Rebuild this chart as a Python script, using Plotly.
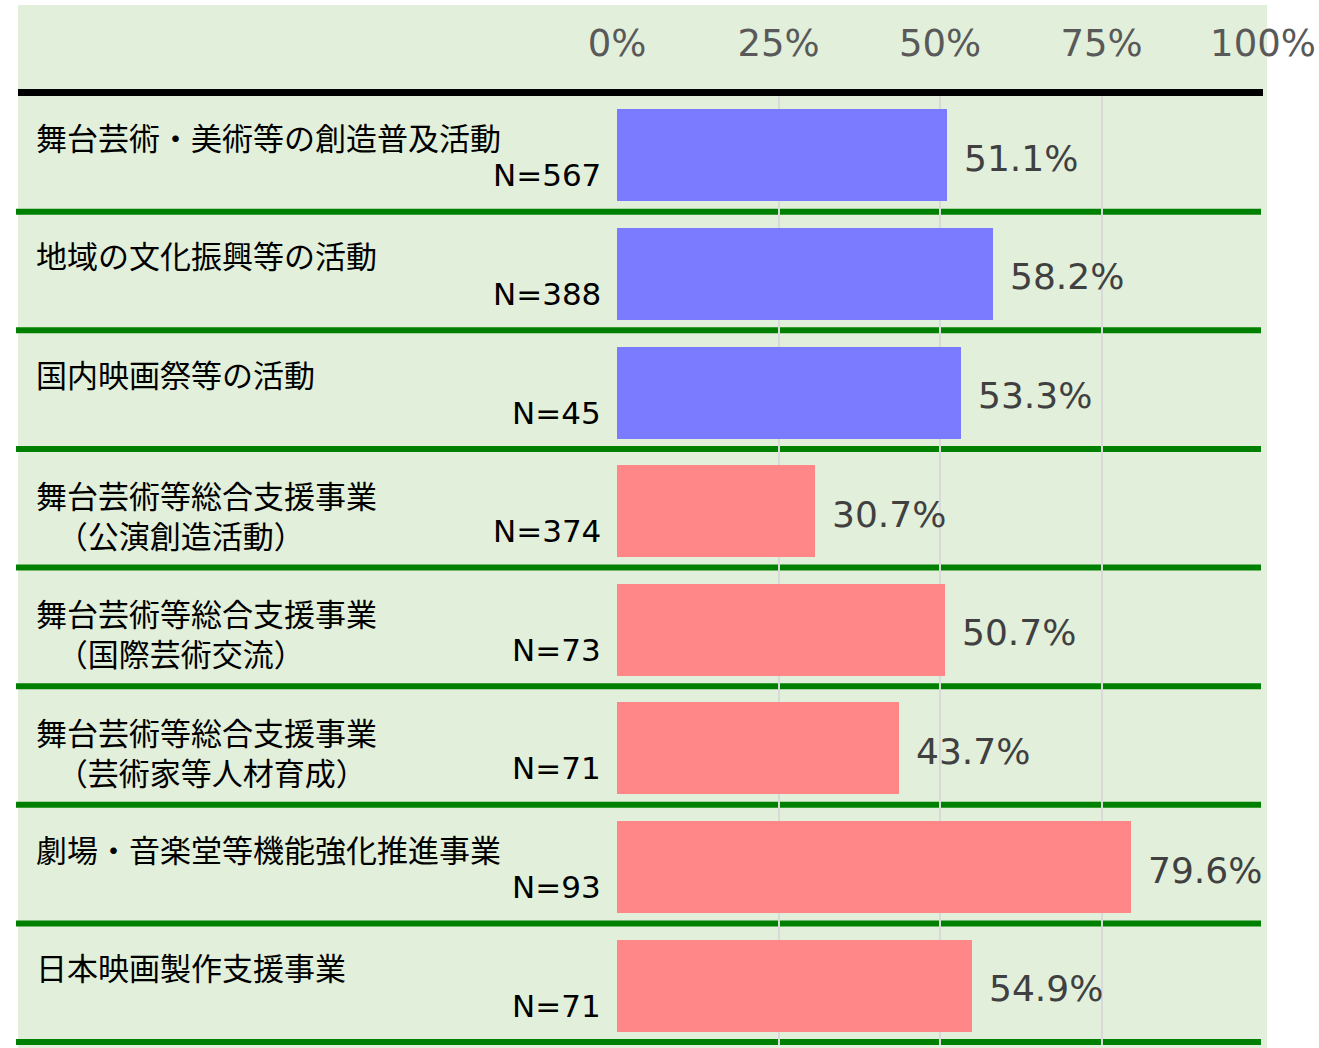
import plotly.graph_objects as go

# ---- data ----
labels_main = [
    "舞台芸術・美術等の創造普及活動",
    "地域の文化振興等の活動",
    "国内映画祭等の活動",
    "舞台芸術等総合支援事業",
    "舞台芸術等総合支援事業",
    "舞台芸術等総合支援事業",
    "劇場・音楽堂等機能強化推進事業",
    "日本映画製作支援事業",
]
labels_sub = ["", "", "", "（公演創造活動）", "（国際芸術交流）", "（芸術家等人材育成）", "", ""]
n_counts = [567, 388, 45, 374, 73, 71, 93, 71]
values = [51.1, 58.2, 53.3, 30.7, 50.7, 43.7, 79.6, 54.9]
groups = ["blue", "blue", "blue", "red", "red", "red", "red", "red"]
tick_vals = [0, 25, 50, 75, 100]
tick_text = ["0%", "25%", "50%", "75%", "100%"]

# ---- style ----
W, H = 1319, 1048
PLOT_L, PLOT_R, PLOT_T, PLOT_B = 617, 1263, 96, 1045  # pixel coords of plot area
ML = PLOT_L
MR = W - PLOT_R
MT = PLOT_T
MB = H - PLOT_B
PW = W - ML - MR
PH = H - MT - MB
color_map = {"blue": "#7B7BFF", "red": "#FF8787"}
BG = "#E2EFDA"
JP = "Noto Sans CJK JP"
LAT = "DejaVu Sans"


def px_x(px):
    return (px - PLOT_L) / PW


def px_y(py):
    return 1 - (py - PLOT_T) / PH


idx = list(range(len(values)))

fig = go.Figure()
fig.add_trace(go.Bar(
    x=values, y=idx, orientation="h",
    marker=dict(color=[color_map[g] for g in groups], line=dict(width=0)),
    width=0.775, hoverinfo="skip", showlegend=False,
))

shapes = [
    dict(type="rect", xref="paper", yref="paper",
         x0=px_x(18), x1=px_x(1267), y0=px_y(1049), y1=px_y(5),
         fillcolor=BG, line=dict(width=0), layer="below"),
    dict(type="line", xref="paper", yref="paper",
         x0=px_x(18), x1=px_x(1263), y0=px_y(92.5), y1=px_y(92.5),
         line=dict(color="black", width=7), layer="below"),
]
for i in idx:
    shapes.append(dict(type="line", xref="paper", yref="y",
                       x0=px_x(16), x1=px_x(1261), y0=i + 0.475, y1=i + 0.475,
                       line=dict(color="#008000", width=6), layer="below"))

annotations = []
for i in idx:
    if labels_sub[i]:
        annotations.append(dict(
            xref="paper", yref="y", x=px_x(34), y=i, yshift=-3,
            text=labels_main[i] + "<br>\u00a0\u00a0\u00a0" + labels_sub[i],
            showarrow=False, xanchor="left", yanchor="middle", align="left",
            font=dict(family=JP, size=31, color="black")))
    else:
        annotations.append(dict(
            xref="paper", yref="y", x=px_x(34), y=i, yshift=19,
            text=labels_main[i], showarrow=False, xanchor="left", yanchor="middle",
            font=dict(family=JP, size=31, color="black")))
    annotations.append(dict(
        xref="paper", yref="y", x=px_x(603), y=i, yshift=-20,
        text=f"N={n_counts[i]}", showarrow=False, xanchor="right", yanchor="middle",
        font=dict(family=LAT, size=31, color="black")))
    annotations.append(dict(
        xref="x", yref="y", x=values[i], y=i, xshift=15, yshift=-3,
        text=f"{values[i]:.1f}%", showarrow=False, xanchor="left", yanchor="middle",
        font=dict(family=LAT, size=36, color="#404040")))

fig.update_layout(
    width=W, height=H,
    margin=dict(l=ML, r=MR, t=MT, b=MB, pad=0),
    paper_bgcolor="white", plot_bgcolor="rgba(0,0,0,0)",
    shapes=shapes, annotations=annotations,
    xaxis=dict(range=[0, 100], side="top", tickvals=tick_vals, ticktext=tick_text,
               tickfont=dict(family=LAT, size=37, color="#595959"),
               ticks="outside", ticklen=24, tickcolor="rgba(0,0,0,0)",
               showgrid=True, gridcolor="#D9D9D9", gridwidth=2,
               zeroline=False, showline=False, fixedrange=True),
    yaxis=dict(range=[len(values) - 0.5, -0.5], showticklabels=False,
               showgrid=False, zeroline=False, showline=False, fixedrange=True),
    bargap=0,
)

fig.write_html("out.html", config={"displayModeBar": False},
               post_script="document.body.style.margin='0';")
